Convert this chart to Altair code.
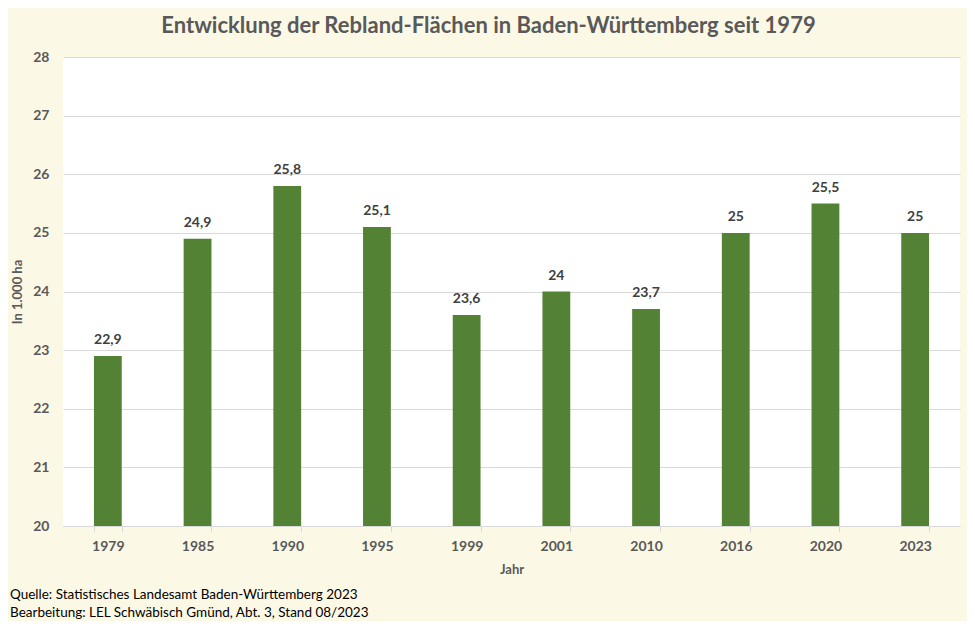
import altair as alt
import pandas as pd

years = ["1979", "1985", "1990", "1995", "1999", "2001", "2010", "2016", "2020", "2023"]
values = [22.9, 24.9, 25.8, 25.1, 23.6, 24.0, 23.7, 25.0, 25.5, 25.0]
y_ticks = [20, 21, 22, 23, 24, 25, 26, 27, 28]
title_text = "Entwicklung der Rebland-Flächen in Baden-Württemberg seit 1979"
x_title = "Jahr"
y_title = "In 1.000 ha"
source_lines = [
    "Quelle: Statistisches Landesamt Baden-Württemberg 2023",
    "Bearbeitung: LEL Schwäbisch Gmünd, Abt. 3, Stand 08/2023",
]

df = pd.DataFrame({"Jahr": years, "Wert": values})

FONT = "Lato"
GRAY = "#595959"
W, H = 897, 469

x_enc = alt.X(
    "Jahr:N",
    sort=years,
    scale=alt.Scale(paddingInner=0.69, paddingOuter=0.345),
    axis=alt.Axis(
        title=x_title,
        labelAngle=0,
        tickBand="extent",
        domainColor="#d9d9d9",
        tickColor="#d9d9d9",
        tickSize=6,
        labelPadding=7,
        labelFont=FONT,
        labelFontSize=14,
        labelFontWeight="bold",
        labelColor=GRAY,
        titleFont=FONT,
        titleFontSize=13,
        titleFontWeight="bold",
        titleColor=GRAY,
        titlePadding=10,
        grid=False,
    ),
)

y_enc = alt.Y(
    "Wert:Q",
    scale=alt.Scale(domain=[20, 28], zero=False, nice=False),
    axis=alt.Axis(
        values=y_ticks,
        format="d",
        title=y_title,
        domain=False,
        ticks=False,
        labelPadding=14,
        labelFont=FONT,
        labelFontSize=14,
        labelFontWeight="bold",
        labelColor=GRAY,
        gridColor="#d9d9d9",
        titleFont=FONT,
        titleFontSize=13,
        titleFontWeight="bold",
        titleColor=GRAY,
        titlePadding=8,
    ),
)

base = alt.Chart(df)

bars = base.mark_bar(color="#548235").encode(x=x_enc, y=y_enc, y2=alt.datum(20))

labels = base.transform_calculate(
    lbl="replace(toString(datum.Wert), '.', ',')"
).mark_text(
    font=FONT, fontSize=14, fontWeight="bold", color="#404040", baseline="middle", dy=-16
).encode(x=alt.X("Jahr:N", sort=years), y=alt.Y("Wert:Q"), text="lbl:N")

footer = alt.Chart(pd.DataFrame({"a": [0]})).mark_text(
    text=source_lines,
    font=FONT,
    fontSize=13.5,
    color="#000000",
    align="left",
    baseline="top",
    lineHeight=18,
).encode(x=alt.value(-53), y=alt.value(531))

chart = (
    alt.layer(bars, labels, footer)
    .properties(
        width=W,
        height=H,
        title=alt.TitleParams(
            text=title_text,
            font=FONT,
            fontSize=22,
            fontWeight="bold",
            color=GRAY,
            anchor="middle",
            offset=12,
            dx=-23,
        ),
        autosize=alt.AutoSizeParams(type="none"),
        padding={"left": 55, "top": 49, "right": 7, "bottom": 95},
        background="#FCF8E6",
    )
    .configure_view(fill="white", stroke=None)
)

chart.save("out.html", embed_options={"renderer": "svg", "actions": False})
